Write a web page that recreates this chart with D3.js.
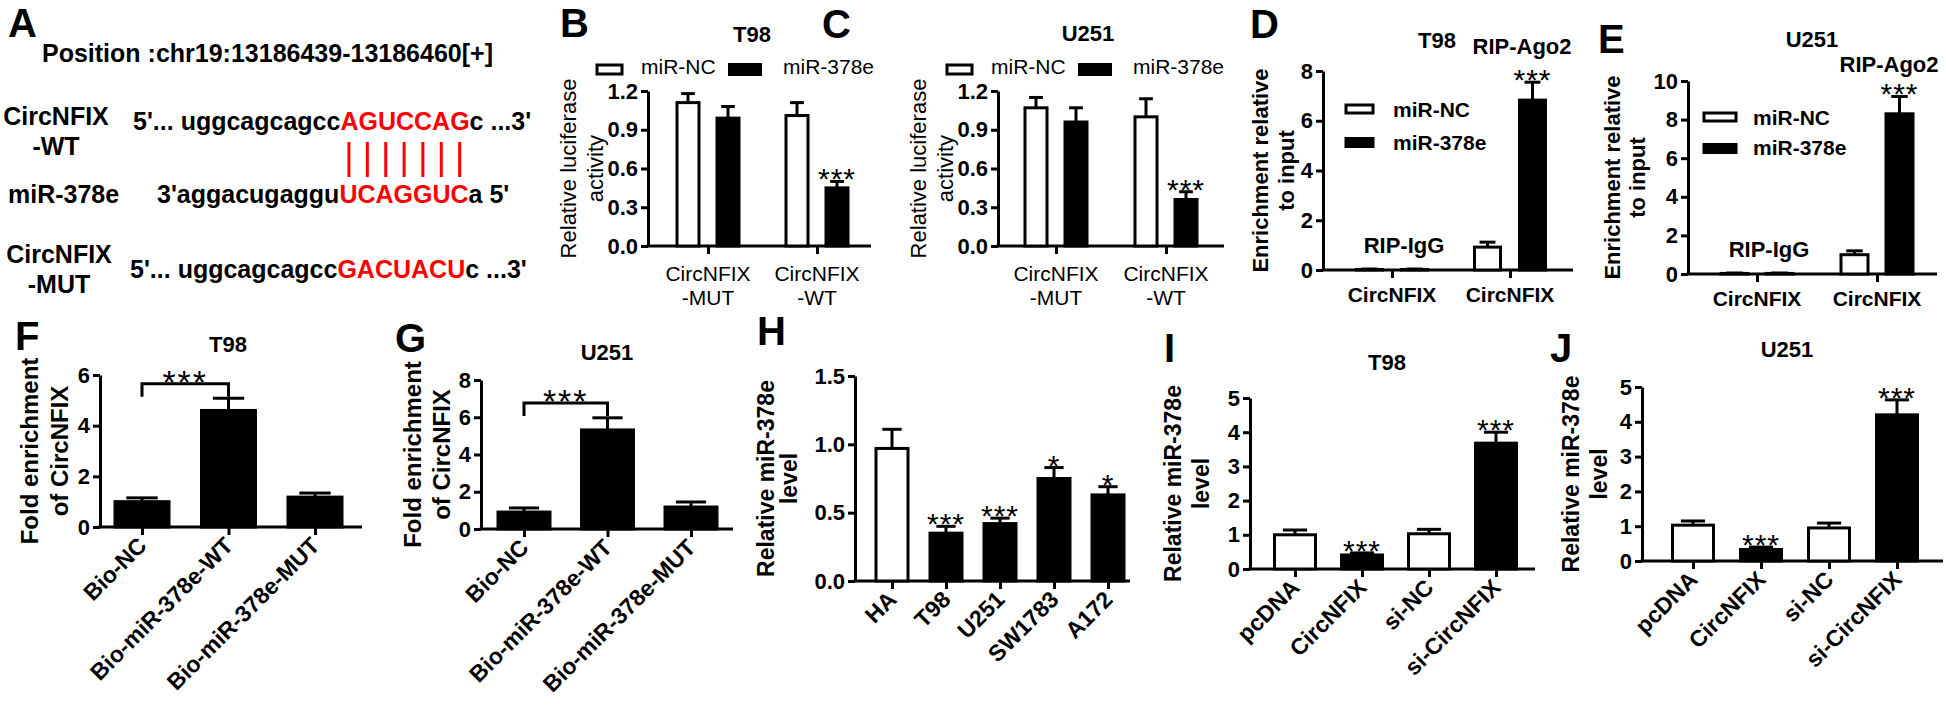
<!DOCTYPE html>
<html>
<head>
<meta charset="utf-8">
<script src="https://cdn.jsdelivr.net/npm/d3@7"></script>
<style>
  body { margin: 0; background: #fff; }
  svg { display: block; }
</style>
</head>
<body>
<svg id="fig" width="1946" height="706"></svg>
<script>
// ---- panel A: binding site ----
const siteLabel = 'Position :chr19:13186439-13186460[+]';
const wtSeq = ["5'... uggcagcagcc", 'AGUCCAG', "c ...3'"];
const mirSeq = ["3'aggacugaggu", 'UCAGGUC', "a 5'"];
const mutSeq = ["5'... uggcagcagcc", 'GACUACU', "c ...3'"];

// ---- panels B, C: luciferase ----
const lucGroups = ['CircNFIX\n-MUT', 'CircNFIX\n-WT'];
const lucSeries = ['miR-NC', 'miR-378e'];
const lucTicks = [0, 0.3, 0.6, 0.9, 1.2];
const t98LucNC = [1.11, 1.01];
const t98LucNCErr = [0.07, 0.10];
const t98Luc378e = [0.99, 0.45];
const t98Luc378eErr = [0.09, 0.05];
const u251LucNC = [1.07, 1.00];
const u251LucNCErr = [0.08, 0.14];
const u251Luc378e = [0.96, 0.36];
const u251Luc378eErr = [0.11, 0.06];
const lucStars = ['', '***'];

// ---- panels D, E: RIP ----
const ripGroups = ['CircNFIX', 'CircNFIX'];
const ripTags = ['RIP-IgG', 'RIP-Ago2'];
const t98RipTicks = [0, 2, 4, 6, 8];
const u251RipTicks = [0, 2, 4, 6, 8, 10];
const t98RipNC = [0.02, 0.92];
const t98RipNCErr = [0.02, 0.20];
const t98Rip378e = [0.02, 6.83];
const t98Rip378eErr = [0.02, 0.72];
const u251RipNC = [0.03, 1.00];
const u251RipNCErr = [0.02, 0.20];
const u251Rip378e = [0.03, 8.30];
const u251Rip378eErr = [0.02, 0.90];
const ripStars = ['', '***'];

// ---- panels F, G: biotin pull-down ----
const pullGroups = ['Bio-NC', 'Bio-miR-378e-WT', 'Bio-miR-378e-MUT'];
const t98Pull = [1.0, 4.6, 1.18];
const t98PullErr = [0.15, 0.48, 0.16];
const u251Pull = [0.91, 5.32, 1.18];
const u251PullErr = [0.22, 0.65, 0.27];
const t98PullTicks = [0, 2, 4, 6];
const u251PullTicks = [0, 2, 4, 6, 8];
const t98Bracket = [5.65, 5.14];   // bar level, drop level
const u251Bracket = [6.77, 6.07];

// ---- panel H: cell lines ----
const cellLines = ['HA', 'T98', 'U251', 'SW1783', 'A172'];
const cellMiR = [0.97, 0.35, 0.42, 0.75, 0.63];
const cellMiRErr = [0.14, 0.05, 0.04, 0.08, 0.06];
const cellStars = ['', '***', '***', '*', '*'];
const cellTicks = [0, 0.5, 1.0, 1.5];

// ---- panels I, J: overexpression / knockdown ----
const rescueGroups = ['pcDNA', 'CircNFIX', 'si-NC', 'si-CircNFIX'];
const t98Rescue = [1.0, 0.41, 1.03, 3.68];
const t98RescueErr = [0.14, 0.06, 0.13, 0.32];
const u251Rescue = [1.03, 0.33, 0.95, 4.2];
const u251RescueErr = [0.12, 0.07, 0.14, 0.43];
const rescueStars = ['', '***', '', '***'];
const rescueTicks = [0, 1, 2, 3, 4, 5];

const FONT = '"Liberation Sans", Arial, Helvetica, sans-serif';
const RED = '#ff0000';
const svg = d3.select('#fig').attr('font-family', FONT);
svg.append('rect').attr('width', 1946).attr('height', 706).attr('fill', '#fff');

function label(parent, str, x, y, size, weight = 'bold', anchor = 'start') {
  return parent.append('text')
    .attr('x', x).attr('y', y)
    .attr('font-size', size)
    .attr('font-weight', weight)
    .attr('text-anchor', anchor)
    .attr('fill', '#000')
    .text(str);
}

function styleAxis(a, size) {
  a.selectAll('path, line').attr('stroke', '#000').attr('stroke-width', 3);
  a.selectAll('text')
    .attr('fill', '#000')
    .attr('font-size', size)
    .attr('font-weight', 'bold')
    .attr('font-family', FONT);
}

// generic Prism-style bar panel
function barPanel(p) {
  const g = svg.append('g');
  const y = d3.scaleLinear().domain([0, p.yMax]).range([p.y0, p.y1]);
  const x = d3.scalePoint().domain(d3.range(p.groups.length)).range(p.xTicks);
  const sub = d3.scalePoint().domain(d3.range(p.series.length)).range([-p.sep / 2, p.sep / 2]);

  g.append('g')
    .attr('transform', `translate(${p.left},0)`)
    .call(d3.axisLeft(y).tickValues(p.yTicks).tickFormat(d3.format(p.yFmt))
      .tickSize(7).tickSizeOuter(0).tickPadding(3))
    .call(a => styleAxis(a, 22));

  g.append('g')
    .attr('transform', `translate(0,${p.y0})`)
    .call(d3.axisBottom(x).tickSize(8).tickFormat(() => ''))
    .call(a => a.select('.domain').remove())
    .call(a => styleAxis(a, 22));

  g.append('line')
    .attr('x1', p.left - 1.5).attr('x2', p.right)
    .attr('y1', p.y0).attr('y2', p.y0)
    .attr('stroke', '#000').attr('stroke-width', 3);

  p.series.forEach((s, si) => {
    const cx = i => x(i) + sub(si);
    const bw = p.barW;
    const cap = bw * 0.55;
    const rows = s.values.map((v, i) => ({ v, e: s.errs[i], i, fill: s.fills[i], star: (s.stars || [])[i] || '' }));

    g.selectAll(null).data(rows).join('line')
      .attr('x1', d => cx(d.i)).attr('x2', d => cx(d.i))
      .attr('y1', d => y(d.v)).attr('y2', d => y(d.v + d.e))
      .attr('stroke', '#000').attr('stroke-width', 3);
    g.selectAll(null).data(rows).join('line')
      .attr('x1', d => cx(d.i) - cap / 2).attr('x2', d => cx(d.i) + cap / 2)
      .attr('y1', d => y(d.v + d.e)).attr('y2', d => y(d.v + d.e))
      .attr('stroke', '#000').attr('stroke-width', 3);

    g.selectAll(null).data(rows).join('rect')
      .attr('x', d => cx(d.i) - bw / 2 + 1.5)
      .attr('width', bw - 3)
      .attr('y', d => y(d.v))
      .attr('height', d => Math.max(0.5, p.y0 - y(d.v)))
      .attr('fill', d => d.fill)
      .attr('stroke', '#000').attr('stroke-width', 3);

    g.selectAll(null).data(rows.filter(d => d.star)).join('text')
      .attr('x', d => cx(d.i)).attr('y', d => y(d.v + d.e) + 8)
      .attr('text-anchor', 'middle')
      .attr('font-size', 30).attr('letter-spacing', 1)
      .attr('fill', '#000')
      .text(d => d.star);
  });

  // category labels
  p.groups.forEach((name, i) => {
    if (p.labelStyle === 'rot') {
      g.append('text')
        .attr('transform', `translate(${x(i) + 6},${p.y0 + 20}) rotate(-45)`)
        .attr('text-anchor', 'end')
        .attr('font-size', 23).attr('font-weight', 'bold').attr('fill', '#000')
        .text(name);
    } else {
      name.split('\n').forEach((line, li) => {
        label(g, line, x(i), p.y0 + p.labelDy + li * 24, 21, p.labelWeight, 'middle');
      });
    }
  });

  // y title
  const cy = (p.y0 + p.y1) / 2;
  p.yTitle.forEach((line, li) => {
    g.append('text')
      .attr('transform', `translate(${p.yTitleX[li]},${cy}) rotate(-90)`)
      .attr('text-anchor', 'middle')
      .attr('font-size', p.yTitleSize).attr('font-weight', p.yTitleWeight).attr('fill', '#000')
      .text(line);
  });

  if (p.title) label(g, p.title[0], p.title[1], p.title[2], 22, 'bold', 'middle');
  return { g, x, y };
}

// ---- panel letters ----
const letters = [['A', 8, 37], ['B', 560, 37], ['C', 822, 38], ['D', 1250, 38], ['E', 1598, 53],
  ['F', 15, 350], ['G', 395, 352], ['H', 757, 345], ['I', 1164, 362], ['J', 1550, 362]];
letters.forEach(([t, x, y]) => label(svg, t, x, y, 40));

// ---- A ----
{
  const g = svg.append('g');
  label(g, siteLabel, 42, 62, 25);
  label(g, 'CircNFIX', 56, 125, 25, 'bold', 'middle');
  label(g, '-WT', 56, 155, 25, 'bold', 'middle');
  label(g, 'miR-378e', 8, 203, 25);
  label(g, 'CircNFIX', 59, 263, 25, 'bold', 'middle');
  label(g, '-MUT', 59, 293, 25, 'bold', 'middle');

  const seqLine = (parts, x, y) => {
    const t = label(g, '', x, y, 25);
    parts.forEach((s, i) => t.append('tspan').attr('fill', i === 1 ? RED : '#000').text(s));
    return t.node();
  };
  const wtNode = seqLine(wtSeq, 133, 130);
  const mirNode = seqLine(mirSeq, 157, 203);
  seqLine(mutSeq, 130, 278);

  const pairX = d3.range(wtSeq[1].length).map(i => {
    const a = wtNode.getExtentOfChar(wtSeq[0].length + i);
    const b = mirNode.getExtentOfChar(mirSeq[0].length + i);
    return (a.x + a.width / 2 + b.x + b.width / 2) / 2;
  });
  g.selectAll(null).data(pairX).join('line')
    .attr('x1', d => d).attr('x2', d => d)
    .attr('y1', 142).attr('y2', 177)
    .attr('stroke', RED).attr('stroke-width', 3);
}

// ---- B, C ----
function lucLegend(dx) {
  const g = svg.append('g');
  g.append('rect').attr('x', 597 + dx).attr('y', 65).attr('width', 25).attr('height', 9)
    .attr('fill', '#fff').attr('stroke', '#000').attr('stroke-width', 3);
  label(g, lucSeries[0], 641 + dx, 74, 21, 'normal');
  g.append('rect').attr('x', 728 + dx).attr('y', 63).attr('width', 34).attr('height', 13).attr('fill', '#000');
  label(g, lucSeries[1], 783 + dx, 74, 21, 'normal');
}
const lucCommon = {
  groups: lucGroups, yMax: 1.2, yTicks: lucTicks, yFmt: '.1f', y0: 246, y1: 91,
  sep: 40, barW: 25, labelDy: 35, labelWeight: 'normal',
  yTitle: ['Relative luciferase', 'activity'], yTitleSize: 22, yTitleWeight: 'normal'
};
barPanel(Object.assign({}, lucCommon, {
  left: 648, right: 871, xTicks: [708, 817], yTitleX: [576, 603], title: ['T98', 752, 42],
  series: [
    { values: t98LucNC, errs: t98LucNCErr, fills: ['#fff', '#fff'] },
    { values: t98Luc378e, errs: t98Luc378eErr, fills: ['#000', '#000'], stars: lucStars }
  ]
}));
lucLegend(0);
barPanel(Object.assign({}, lucCommon, {
  left: 998, right: 1224, xTicks: [1056, 1166], yTitleX: [926, 953], title: ['U251', 1088, 41],
  series: [
    { values: u251LucNC, errs: u251LucNCErr, fills: ['#fff', '#fff'] },
    { values: u251Luc378e, errs: u251Luc378eErr, fills: ['#000', '#000'], stars: lucStars }
  ]
}));
lucLegend(350);

// ---- D, E ----
function ripPanel(p, nc, ncErr, mi, miErr) {
  const r = barPanel(Object.assign({
    groups: ripGroups, yFmt: 'd', sep: 45, barW: 29, labelDy: 32, labelWeight: 'bold',
    yTitle: ['Enrichment relative', 'to input'], yTitleSize: 22, yTitleWeight: 'bold',
    series: [
      { values: nc, errs: ncErr, fills: ['#fff', '#fff'] },
      { values: mi, errs: miErr, fills: ['#000', '#000'], stars: ripStars }
    ]
  }, p));
  ripTags.forEach((t, i) => label(r.g, t, r.x(i) + 12, r.y(p.tagAt[i]), 22, 'bold', 'middle'));
  const lg = p.legend;
  r.g.append('rect').attr('x', lg.x).attr('y', lg.y[0]).attr('width', lg.w).attr('height', 8)
    .attr('fill', '#fff').attr('stroke', '#000').attr('stroke-width', 3);
  r.g.append('rect').attr('x', lg.x - 1.5).attr('y', lg.y[1]).attr('width', lg.w + 3).attr('height', 11).attr('fill', '#000');
  label(r.g, lucSeries[0], lg.tx, lg.ty[0], 21);
  label(r.g, lucSeries[1], lg.tx, lg.ty[1], 21);
}
ripPanel({
  left: 1323, right: 1573, y0: 270, y1: 71, yMax: 8, yTicks: t98RipTicks, xTicks: [1392, 1510],
  yTitleX: [1268, 1294], title: ['T98', 1437, 48], tagAt: [0.68, 8.7],
  legend: { x: 1346, y: [105, 137], w: 27, tx: 1393, ty: [117, 150] }
}, t98RipNC, t98RipNCErr, t98Rip378e, t98Rip378eErr);
ripPanel({
  left: 1688, right: 1937, y0: 274, y1: 81, yMax: 10, yTicks: u251RipTicks, xTicks: [1757, 1877],
  yTitleX: [1620, 1645], title: ['U251', 1812, 47], tagAt: [0.88, 10.45], barW: 30,
  legend: { x: 1704, y: [113, 143], w: 32, tx: 1753, ty: [125, 155] }
}, u251RipNC, u251RipNCErr, u251Rip378e, u251Rip378eErr);

// ---- F, G ----
function pullPanel(p, vals, errs, bracket) {
  const r = barPanel(Object.assign({
    groups: pullGroups, yFmt: 'd', sep: 0, labelStyle: 'rot',
    yTitle: ['Fold enrichment', 'of CircNFIX'], yTitleSize: 24, yTitleWeight: 'bold',
    series: [{ values: vals, errs: errs, fills: ['#000', '#000', '#000'] }]
  }, p));
  const [by, bd] = bracket.map(r.y);
  const xa = r.x(0), xb = r.x(1);
  r.g.append('path')
    .attr('d', `M${xa},${bd}V${by}H${xb}V${bd}`)
    .attr('fill', 'none').attr('stroke', '#000').attr('stroke-width', 3);
  r.g.append('text')
    .attr('x', (xa + xb) / 2).attr('y', by + 10)
    .attr('text-anchor', 'middle').attr('font-size', 34).attr('letter-spacing', 2)
    .attr('fill', '#000').text('***');
}
pullPanel({
  left: 100, right: 362, y0: 527, y1: 375, yMax: 6, yTicks: t98PullTicks, xTicks: [142, 315],
  barW: 57, yTitleX: [38, 68], title: ['T98', 228, 352]
}, t98Pull, t98PullErr, t98Bracket);
pullPanel({
  left: 481, right: 733, y0: 529, y1: 380, yMax: 8, yTicks: u251PullTicks, xTicks: [524, 691],
  barW: 55, yTitleX: [421, 450], title: ['U251', 607, 360]
}, u251Pull, u251PullErr, u251Bracket);

// ---- H ----
barPanel({
  groups: cellLines, yMax: 1.5, yTicks: cellTicks, yFmt: '.1f', y0: 581, y1: 376,
  left: 855, right: 1130, xTicks: [892, 1108], sep: 0, barW: 35, labelStyle: 'rot',
  yTitle: ['Relative miR-378e', 'level'], yTitleSize: 23, yTitleWeight: 'bold', yTitleX: [774, 797],
  series: [{ values: cellMiR, errs: cellMiRErr, fills: cellLines.map((c, i) => i === 0 ? '#fff' : '#000'), stars: cellStars }]
});

// ---- I, J ----
const rescueFills = ['#fff', '#000', '#fff', '#000'];
barPanel({
  groups: rescueGroups, yMax: 5, yTicks: rescueTicks, yFmt: 'd', y0: 569, y1: 398,
  left: 1250, right: 1535, xTicks: [1295, 1496], sep: 0, barW: 44, labelStyle: 'rot',
  yTitle: ['Relative miR-378e', 'level'], yTitleSize: 23, yTitleWeight: 'bold', yTitleX: [1181, 1209],
  title: ['T98', 1387, 370],
  series: [{ values: t98Rescue, errs: t98RescueErr, fills: rescueFills, stars: rescueStars }]
});
barPanel({
  groups: rescueGroups, yMax: 5, yTicks: rescueTicks, yFmt: 'd', y0: 561, y1: 387,
  left: 1642, right: 1943, xTicks: [1693, 1897], sep: 0, barW: 44, labelStyle: 'rot',
  yTitle: ['Relative miR-378e', 'level'], yTitleSize: 23, yTitleWeight: 'bold', yTitleX: [1579, 1607],
  title: ['U251', 1787, 357],
  series: [{ values: u251Rescue, errs: u251RescueErr, fills: rescueFills, stars: rescueStars }]
});
</script>
</body>
</html>
